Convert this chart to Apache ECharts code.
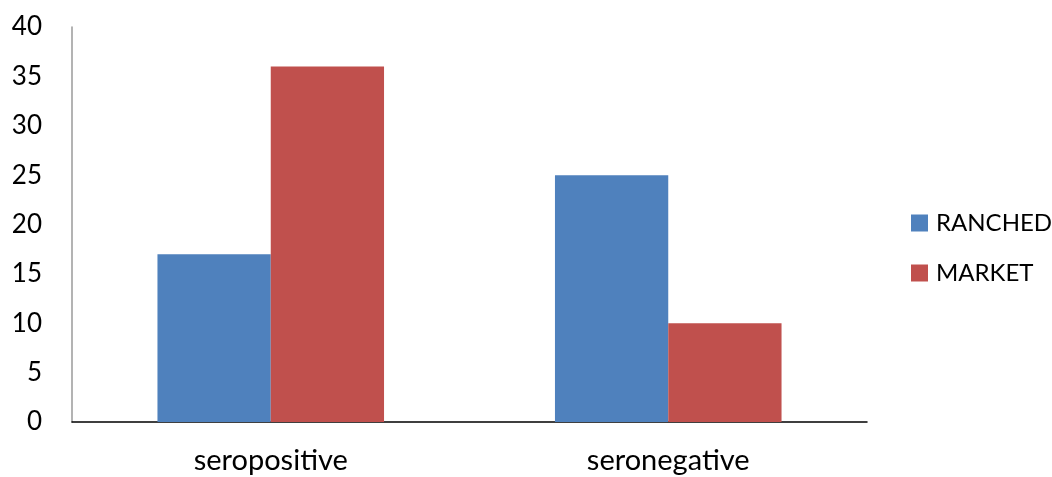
<!DOCTYPE html>
<html>
<head>
<meta charset="utf-8">
<script src="https://cdn.jsdelivr.net/npm/echarts@6/dist/echarts.min.js"></script>
<style>html,body{margin:0;padding:0;background:#fff}#c{width:1052px;height:477px}</style>
</head>
<body>
<div id="c"></div>
<script>
const categories = ['seropositive', 'seronegative'];
const ranched = [17, 25];
const market = [36, 10];
const seriesNames = ['RANCHED', 'MARKET'];

const FONT = 'Lato';
const chart = echarts.init(document.getElementById('c'), null, {renderer: 'canvas'});
chart.setOption({
  animation: false,
  textStyle: {fontFamily: FONT},
  grid: {left: 72, right: 185, top: 27, bottom: 55, containLabel: false},
  legend: {
    orient: 'vertical', left: 906, top: 206,
    itemWidth: 17, itemHeight: 17, itemGap: 26,
    icon: 'rect',
    textStyle: {fontFamily: FONT, fontSize: 24, color: '#000', padding: [0, 0, 0, 3]},
    data: seriesNames
  },
  xAxis: {
    type: 'category', data: categories,
    axisLine: {lineStyle: {color: '#000', width: 1.5}},
    axisTick: {show: false},
    axisLabel: {fontFamily: FONT, fontSize: 29, color: '#000', margin: 24}
  },
  yAxis: {
    type: 'value', min: 0, max: 40, interval: 5,
    axisLine: {show: true, lineStyle: {color: '#9a9a9a', width: 1.5}},
    axisTick: {show: false},
    splitLine: {show: false},
    axisLabel: {fontFamily: FONT, fontSize: 26, color: '#000', margin: 30}
  },
  series: [
    {name: seriesNames[0], type: 'bar', data: ranched, barGap: '0%', barCategoryGap: '43%', itemStyle: {color: '#4F81BD'}},
    {name: seriesNames[1], type: 'bar', data: market, barGap: '0%', barCategoryGap: '43%', itemStyle: {color: '#C0504D'}}
  ]
});
</script>
</body>
</html>
